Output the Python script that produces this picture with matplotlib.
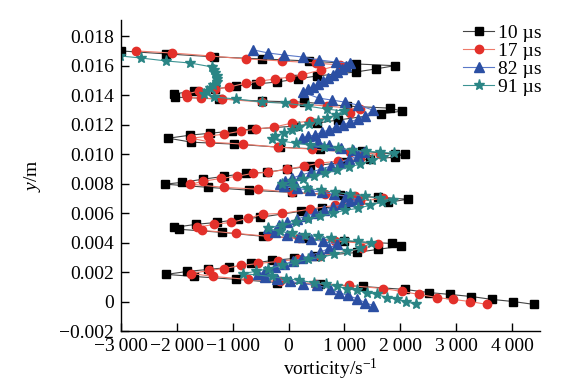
import matplotlib
matplotlib.use("Agg")
import matplotlib.pyplot as plt
from matplotlib.ticker import FixedLocator, FuncFormatter

plt.rcParams['font.family'] = ['Liberation Serif', 'DejaVu Serif']
plt.rcParams['mathtext.fontset'] = 'custom'
plt.rcParams['mathtext.rm'] = 'Liberation Serif'
plt.rcParams['mathtext.it'] = 'Liberation Serif:italic'

series_labels = ["10 \u00b5s", "17 \u00b5s", "82 \u00b5s", "91 \u00b5s"]

x_10 = [-3000, -2190, -1330, -485, 360, 1200, 1900,
        1560, 1200, 500, 160, -215, -575, -935, -1310, -1690, -2060,
        -2030, -1240, -470, 270, 1040, 1810, 2030,
        1650, 880, 500, 110, -650, -1020, -1400, -1760, -2150,
        -1740, -970, -160, 560, 1310, 1900, 2080,
        1900, 1450, 1000, 380, -20, -395, -755, -1150, -1525, -1900, -2210,
        -1450, -700, 55, 915, 1600, 2140,
        1780, 1005, 590, 215, -520, -900, -1275, -1650, -2045,
        -1955, -1185, -450, 290, 1000, 1850, 2010,
        1600, 1220, 470, 90, -290, -665, -1060, -1435, -1815, -2190,
        -1690, -935, -200, 555, 1330, 2080, 2510, 2890, 3270, 3645, 4020, 4400]
y_10 = [0.0170, 0.0168, 0.0166, 0.01646, 0.01632, 0.01612, 0.0160,
        0.01578, 0.01557, 0.0153, 0.0151, 0.01489, 0.01476, 0.01462, 0.01442, 0.01428, 0.01408,
        0.01387, 0.01374, 0.0136, 0.01353, 0.01326, 0.01312, 0.01292,
        0.01272, 0.01231, 0.0121, 0.0119, 0.0117, 0.01156, 0.01142, 0.01129, 0.01108,
        0.01081, 0.01068, 0.01047, 0.01034, 0.0102, 0.0100, 0.0100,
        0.00979, 0.00966, 0.00945, 0.00918, 0.00898, 0.00877, 0.0087, 0.0085, 0.0083, 0.00809, 0.00796,
        0.00775, 0.00755, 0.00741, 0.00721, 0.00707, 0.00694,
        0.00673, 0.00653, 0.00632, 0.00612, 0.00571, 0.00558, 0.00537, 0.00524, 0.00503,
        0.0049, 0.00469, 0.00442, 0.00428, 0.0041, 0.00394, 0.00375,
        0.00354, 0.00333, 0.00306, 0.00292, 0.00279, 0.00258, 0.00231, 0.00218, 0.00204, 0.00184,
        0.0017, 0.0015, 0.00129, 0.00116, 0.00102, 0.00082, 0.00061, 0.00048, 0.00034, 0.00014, 0.0, -0.0002]

x_17 = [-2730, -2080, -1400, -770, -110, 485, 915,
        575, 235, 20, -235, -505, -770, -1060, -1310, -1600, -1830,
        -1810, -1560, -1185, -485, 70, 680, 1275,
        1095, 380, 55, -270, -575, -860, -1150, -1435, -1740,
        -1400, -810, -195, 415, 1095, 1635,
        1275, 880, 540, 270, -20, -360, -630, -915, -1205, -1525, -1760,
        -1165, -555, 55, 645, 1185, 1690,
        1275, 825, 375, -110, -465, -735, -1025, -1330, -1635,
        -1545, -935, -360, 195, 825, 1600,
        1310, 555, 160, -195, -540, -845, -1150, -1420, -1740,
        -1345, -735, -145, 465, 1075, 1690, 2030, 2335, 2655, 2945, 3250, 3555]
y_17 = [0.0170, 0.01686, 0.01666, 0.01646, 0.01632, 0.01618, 0.01605,
        0.01571, 0.01537, 0.01523, 0.0151, 0.01496, 0.01482, 0.01455, 0.01442, 0.01428, 0.01408,
        0.01387, 0.0138, 0.01374, 0.01353, 0.01346, 0.01326, 0.01306,
        0.01278, 0.01224, 0.0121, 0.01183, 0.0117, 0.01156, 0.01136, 0.01122, 0.01108,
        0.01081, 0.01068, 0.01047, 0.01034, 0.01013, 0.0100,
        0.00972, 0.00952, 0.00938, 0.00918, 0.00898, 0.00877, 0.0087, 0.0085, 0.00836, 0.00816, 0.00796,
        0.00775, 0.00762, 0.00741, 0.00728, 0.00714, 0.0070,
        0.0068, 0.00653, 0.00626, 0.00598, 0.00592, 0.00564, 0.00537, 0.00524, 0.00503,
        0.00483, 0.00462, 0.00442, 0.00428, 0.0041, 0.00388,
        0.0036, 0.00306, 0.00286, 0.00272, 0.00258, 0.00245, 0.00224, 0.00211, 0.0019,
        0.0017, 0.0015, 0.00136, 0.00122, 0.00109, 0.00088, 0.00068, 0.00048, 0.00027, 0.00014, 0.0, -0.0002]

x_82 = [-630, -360, -90, 250, 540, 845, 1095,
        1025, 950, 860, 790, 700, 610, 520, 430, 340, 250,
        540, 770, 1005, 1240, 1510,
        1365, 1240, 1095, 970, 845, 720, 590, 465, 340, 235,
        520, 720, 935, 1150, 1345,
        1240, 1075, 915, 755, 575, 395, 215, 55, -70, -160,
        -90, 145, 375, 590, 810, 1025, 1240,
        1095, 950, 790, 630, 465, 305, 145, -20, -180, -360,
        -250, -35, 180, 395, 610, 860,
        720, 555, 395, 235, 70, -90, -250, -415, -555,
        -415, -215, 20, 250, 505, 735, 900, 1060, 1220, 1365, 1510]
y_82 = [0.01707, 0.01686, 0.01673, 0.01659, 0.01639, 0.01625, 0.01618,
        0.01598, 0.01578, 0.01557, 0.01537, 0.01516, 0.01496, 0.01476, 0.01455, 0.01442, 0.01421,
        0.0138, 0.01367, 0.01353, 0.01333, 0.01299,
        0.01258, 0.01238, 0.01217, 0.01197, 0.01183, 0.01163, 0.01149, 0.01128, 0.01122, 0.01108,
        0.01081, 0.01061, 0.0104, 0.01027, 0.01013,
        0.00986, 0.00966, 0.00938, 0.00918, 0.00898, 0.00877, 0.00857, 0.00836, 0.00816, 0.00796,
        0.00782, 0.00768, 0.00755, 0.00741, 0.00728, 0.00714, 0.00694,
        0.0068, 0.0066, 0.00639, 0.00619, 0.00598, 0.00578, 0.00558, 0.00537, 0.00517, 0.00496,
        0.00469, 0.00449, 0.00435, 0.00422, 0.00408, 0.00388,
        0.0036, 0.00333, 0.00313, 0.00292, 0.00272, 0.00252, 0.00231, 0.00204, 0.00184,
        0.00163, 0.0015, 0.00136, 0.00122, 0.00109, 0.00088, 0.00061, 0.00041, 0.0002, -0.00007, -0.00027]

x_91 = [-3015, -2640, -2190, -1760, -1365,
        -1330, -1310, -1290, -1275, -1290, -1345, -1400, -1455, -1510,
        -1330, -935, -485, -70, 340, 680, 985,
        845, 680, 520, 360, 195, 55, -90, -235, -305,
        -110, 125, 375, 630, 880, 1130, 1380, 1635, 1885,
        1685, 1490, 1275, 1075, 860, 645, 450, 250, 55, -125,
        70, 325, 575, 825, 1095, 1365, 1635, 1865,
        1670, 1455, 1240, 1005, 790, 555, 340, 125, -110, -375,
        -160, 55, 285, 520, 755, 985, 1240, 1470,
        1275, 1040, 810, 575, 340, 110, -125, -360, -590, -825,
        -305, -55, 195, 450, 665, 860, 1040, 1220, 1400, 1580, 1760, 1940, 2100, 2280]
y_91 = [0.01666, 0.01652, 0.01632, 0.01618, 0.01591,
        0.01571, 0.0155, 0.0153, 0.0151, 0.01489, 0.01469, 0.01448, 0.01428, 0.01408,
        0.01387, 0.01374, 0.01353, 0.01346, 0.01326, 0.01306, 0.01292,
        0.01265, 0.01244, 0.01224, 0.01204, 0.01183, 0.01163, 0.01142, 0.01122, 0.01102,
        0.01088, 0.01074, 0.01061, 0.01047, 0.0104, 0.01027, 0.0102, 0.01013, 0.01006,
        0.00979, 0.00959, 0.00932, 0.00911, 0.00891, 0.0087, 0.0085, 0.0083, 0.00816, 0.00796,
        0.00782, 0.00768, 0.00755, 0.00741, 0.00728, 0.00714, 0.0070, 0.00687,
        0.00673, 0.00653, 0.00632, 0.00619, 0.00598, 0.00578, 0.00558, 0.00537, 0.00517, 0.00496,
        0.00476, 0.00462, 0.00449, 0.00442, 0.00428, 0.00415, 0.00408, 0.00394,
        0.0036, 0.0034, 0.0032, 0.00299, 0.00286, 0.00265, 0.00245, 0.00224, 0.00204, 0.0019,
        0.0017, 0.00156, 0.00143, 0.00129, 0.00116, 0.00102, 0.00088, 0.00075, 0.00061, 0.00048,
        0.00027, 0.00014, 0.0, -0.0002]

x_ticks = [-3000, -2000, -1000, 0, 1000, 2000, 3000, 4000]
y_ticks = [-0.002, 0.0, 0.002, 0.004, 0.006, 0.008, 0.010, 0.012, 0.014, 0.016, 0.018]

styles = [
    dict(marker='s', color='#444444', mfc='#000000', mec='#000000', ms=5.5),
    dict(marker='o', color='#ee7a6a', mfc='#e3302a', mec='#e3302a', ms=6),
    dict(marker='^', color='#5a78c8', mfc='#2b4fa3', mec='#2b4fa3', ms=6.5),
    dict(marker='*', color='#3c9393', mfc='#2a8585', mec='#2a8585', ms=8),
]

fig = plt.figure(figsize=(5.8, 3.86), dpi=100)
ax = fig.add_axes([121 / 580, 1 - 331 / 386, (540 - 121) / 580, (331 - 20) / 386])

for xs, ys, lab, st in zip([x_10, x_17, x_82, x_91], [y_10, y_17, y_82, y_91], series_labels, styles):
    ax.plot(xs, ys, lw=0.8, label=lab, **st)

ax.set_xlim(-3000, 4500)
ax.set_ylim(-0.002, 0.0191)
ax.spines['top'].set_visible(False)
ax.spines['right'].set_visible(False)
for s in ['left', 'bottom']:
    ax.spines[s].set_linewidth(1.0)

def fmt_x(v, pos):
    v = int(round(v))
    if v == 0:
        return "0"
    s = f"{abs(v):,}".replace(",", "\u2009")
    return ("\u2212" if v < 0 else "") + s

def fmt_y(v, pos):
    if abs(v) < 1e-12:
        return "0"
    s = f"{abs(v):.3f}"
    return ("\u2212" if v < 0 else "") + s

ax.xaxis.set_major_locator(FixedLocator(x_ticks))
ax.yaxis.set_major_locator(FixedLocator(y_ticks))
ax.xaxis.set_major_formatter(FuncFormatter(fmt_x))
ax.yaxis.set_major_formatter(FuncFormatter(fmt_y))
ax.tick_params(direction='in', length=6, width=1.0, labelsize=14, pad=5)

ax.set_xlabel(r"vorticity/s$^{-1}$", fontsize=14, labelpad=1)
ax.set_ylabel(r"$\mathit{y}$/m", fontsize=14, labelpad=12)

leg = ax.legend(loc='upper right', bbox_to_anchor=(542 / 580, 1 - 24 / 386),
                bbox_transform=fig.transFigure, frameon=False, fontsize=14,
                handlelength=1.6, handletextpad=0.2, labelspacing=0.02,
                borderaxespad=0, borderpad=0)

fig.savefig("out.png", dpi=100)
